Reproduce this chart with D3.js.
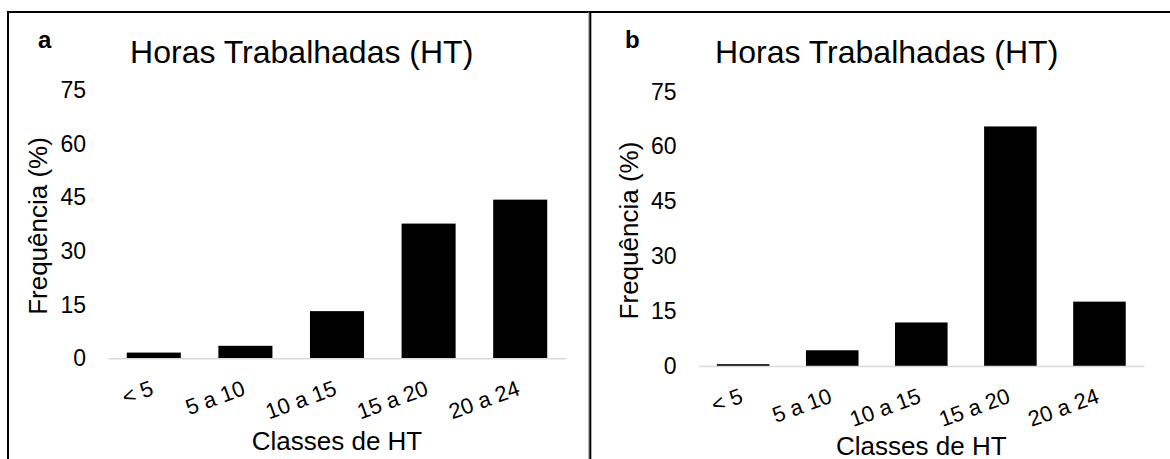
<!DOCTYPE html>
<html>
<head>
<meta charset="utf-8">
<script src="https://cdn.jsdelivr.net/npm/d3@7"></script>
<style>
  html, body { margin: 0; padding: 0; background: #fff; }
  svg { display: block; font-family: "Liberation Sans", Arial, sans-serif; }
</style>
</head>
<body>
<svg id="chart" width="1170" height="459"></svg>
<script>
// ---- data ----
const categories = ["< 5", "5 a 10", "10 a 15", "15 a 20", "20 a 24"];
const valuesA = [1.6, 3.5, 13.2, 37.7, 44.4];
const valuesB = [0.5, 4.3, 11.9, 65.5, 17.6];
const yTicks = [0, 15, 30, 45, 60, 75];
const panelLetters = ["a", "b"];
const chartTitle = "Horas Trabalhadas (HT)";
const yTitle = "Frequência (%)";
const xTitle = "Classes de HT";

// ---- layout ----
const panels = [
  { letter: panelLetters[0], values: valuesA, x0: 108, x1: 566, y0: 358.3, y1: 90.3,
    letterX: 38, titleX: 301.7, yTitleX: 46.5, xTitleY: 450 },
  { letter: panelLetters[1], values: valuesB, x0: 698.6, x1: 1144, y0: 366, y1: 91.7,
    letterX: 625, titleX: 886.7, yTitleX: 637.5, xTitleY: 454.5 }
];

const svg = d3.select("#chart");

// frame lines
svg.append("line").attr("x1", 7).attr("x2", 1170).attr("y1", 12).attr("y2", 12)
  .attr("stroke", "#000").attr("stroke-width", 2);
svg.append("line").attr("x1", 8).attr("x2", 8).attr("y1", 11).attr("y2", 459)
  .attr("stroke", "#000").attr("stroke-width", 2);
svg.append("line").attr("x1", 588.8).attr("x2", 588.8).attr("y1", 12).attr("y2", 459)
  .attr("stroke", "#999").attr("stroke-width", 1);
svg.append("line").attr("x1", 590.3).attr("x2", 590.3).attr("y1", 11).attr("y2", 459)
  .attr("stroke", "#000").attr("stroke-width", 2);

panels.forEach(p => {
  const g = svg.append("g");
  const x = d3.scaleBand().domain(categories).range([p.x0, p.x1])
    .paddingInner(0.41).paddingOuter(0.205);
  const y = d3.scaleLinear().domain([0, 75]).range([p.y0, p.y1]);

  // panel letter
  g.append("text").attr("x", p.letterX).attr("y", 48)
    .attr("font-size", 24).attr("font-weight", "bold").attr("fill", "#000")
    .text(p.letter);

  // title
  g.append("text").attr("x", p.titleX).attr("y", 63.3)
    .attr("text-anchor", "middle").attr("font-size", 32).attr("fill", "#000")
    .text(chartTitle);

  // bars
  g.selectAll("rect.bar").data(p.values).join("rect")
    .attr("class", "bar")
    .attr("x", (d, i) => x(categories[i]))
    .attr("width", x.bandwidth())
    .attr("y", d => y(d))
    .attr("height", d => y(0) - y(d))
    .attr("fill", "#000");

  // y axis
  const ya = g.append("g").attr("transform", `translate(${p.x0},0)`)
    .call(d3.axisLeft(y).tickValues(yTicks).tickSize(0).tickPadding(22));
  ya.select(".domain").remove();
  ya.selectAll("text").attr("font-size", 23).attr("fill", "#000")
    .attr("font-family", "Liberation Sans, Arial, sans-serif");

  // x axis
  const xa = g.append("g").attr("transform", `translate(0,${p.y0})`)
    .call(d3.axisBottom(x).tickSize(0).tickSizeOuter(0));
  xa.select(".domain").attr("stroke", "#d9d9d9").attr("stroke-width", 1.5);
  xa.selectAll("text")
    .attr("font-size", 22).attr("fill", "#000")
    .attr("font-family", "Liberation Sans, Arial, sans-serif")
    .attr("text-anchor", "end")
    .attr("y", 0).attr("dy", 0)
    .attr("transform", "translate(1,36) rotate(-20)");

  // axis titles
  g.append("text")
    .attr("transform", `translate(${p.yTitleX},${(p.y0 + p.y1) / 2 + 1.7}) rotate(-90)`)
    .attr("text-anchor", "middle").attr("font-size", 26).attr("fill", "#000")
    .text(yTitle);
  g.append("text").attr("x", (p.x0 + p.x1) / 2).attr("y", p.xTitleY)
    .attr("text-anchor", "middle").attr("font-size", 26).attr("fill", "#000")
    .text(xTitle);
});
</script>
</body>
</html>
